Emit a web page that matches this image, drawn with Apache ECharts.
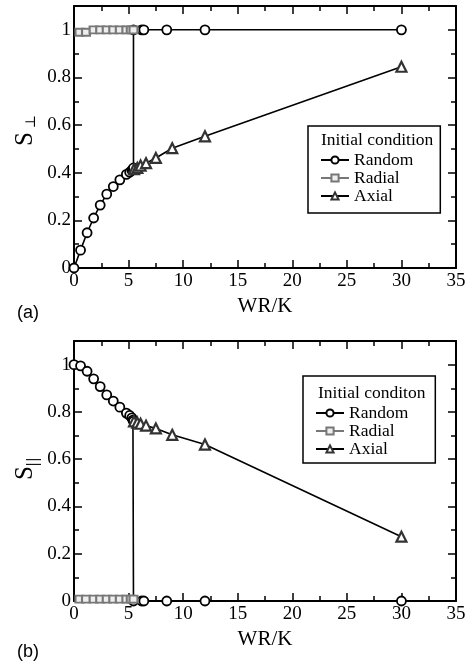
<!DOCTYPE html>
<html>
<head>
<meta charset="utf-8">
<script src="https://cdn.jsdelivr.net/npm/echarts@6/dist/echarts.min.js"></script>
<style>
	html, body { margin: 0; padding: 0; background: #fff; }
	#top { width: 473px; height: 335px; }
	#bottom { width: 473px; height: 331px; }
</style>
</head>
<body>
<div id="top"></div>
<div id="bottom"></div>
<script>
// x values (WR/K)
var randomX = [0, 0.6, 1.2, 1.8, 2.4, 3.0, 3.6, 4.2, 4.8, 5.1, 5.3, 5.4, 5.45, 5.45, 6.2, 6.4, 8.5, 12, 30];
var radialX = [0.5, 1.1, 1.8, 2.4, 3.0, 3.6, 4.2, 4.8, 5.2, 5.45];
var axialX  = [5.5, 5.8, 6.1, 6.6, 7.5, 9, 12, 30];

// (a) S_perp
var randomPerp = [0, 0.075, 0.148, 0.21, 0.264, 0.31, 0.342, 0.37, 0.393, 0.402, 0.41, 0.415, 0.42, 1, 1, 1, 1, 1, 1];
var radialPerp = [0.99, 0.99, 1, 1, 1, 1, 1, 1, 1, 1];
var axialPerp  = [0.415, 0.42, 0.43, 0.44, 0.462, 0.503, 0.553, 0.845];

// (b) S_par
var randomPar = [1, 0.995, 0.972, 0.94, 0.907, 0.872, 0.846, 0.82, 0.795, 0.785, 0.775, 0.765, 0.76, 0, 0, 0, 0, 0, 0];
var radialPar = [0.008, 0.008, 0.008, 0.008, 0.008, 0.008, 0.008, 0.008, 0.008, 0.008];
var axialPar  = [0.76, 0.755, 0.75, 0.742, 0.73, 0.703, 0.662, 0.272];

var xTicks = [0, 5, 10, 15, 20, 25, 30, 35];
var yTicks = [0, 0.2, 0.4, 0.6, 0.8, 1];
var yMax = 1.1;

var serif = 'Liberation Serif';

function pairs(xs, ys) {
	var out = [];
	for (var i = 0; i < xs.length; i++) {
		out.push([xs[i], ys[i]]);
	}
	return out;
}

// major axis: line, long ticks, labels (bottom only)
function xAxisOf(pos, gap) {
	return {
		type: 'value',
		position: pos,
		min: xTicks[0],
		max: xTicks[xTicks.length - 1],
		interval: xTicks[1] - xTicks[0],
		axisLine: { show: true, onZero: false, lineStyle: { color: '#000', width: 2 } },
		axisTick: { show: true, inside: true, length: 8, lineStyle: { color: '#000', width: 1.5 } },
		splitLine: { show: false },
		axisLabel: {
			show: pos == 'bottom',
			margin: 4,
			color: '#000',
			fontFamily: serif,
			fontSize: 19
		},
		name: pos == 'bottom' ? 'WR/K' : '',
		nameLocation: 'middle',
		nameGap: gap,
		nameTextStyle: { color: '#000', fontFamily: serif, fontSize: 21 }
	};
}

// minor axis: short ticks only
function xMinorOf(pos) {
	return {
		type: 'value',
		position: pos,
		min: xTicks[0],
		max: xTicks[xTicks.length - 1],
		interval: (xTicks[1] - xTicks[0]) / 2,
		axisLine: { show: false, onZero: false },
		axisTick: { show: true, inside: true, length: 5, lineStyle: { color: '#000', width: 1.5 } },
		splitLine: { show: false },
		axisLabel: { show: false }
	};
}

function yAxisOf(pos) {
	return {
		type: 'value',
		position: pos,
		min: 0,
		max: yMax,
		interval: yTicks[1] - yTicks[0],
		axisLine: { show: true, onZero: false, lineStyle: { color: '#000', width: 2 } },
		axisTick: { show: true, inside: true, length: 8, lineStyle: { color: '#000', width: 1.5 } },
		splitLine: { show: false },
		axisLabel: {
			show: pos == 'left',
			showMaxLabel: false,
			margin: 3,
			color: '#000',
			fontFamily: serif,
			fontSize: 19
		}
	};
}

function yMinorOf(pos) {
	return {
		type: 'value',
		position: pos,
		min: 0,
		max: yMax,
		interval: (yTicks[1] - yTicks[0]) / 2,
		axisLine: { show: false, onZero: false },
		axisTick: { show: true, inside: true, length: 5, lineStyle: { color: '#000', width: 1.5 } },
		splitLine: { show: false },
		axisLabel: { show: false }
	};
}

function seriesOf(name, xs, ys) {
	var s = {
		name: name,
		type: 'line',
		xAxisIndex: 0,
		yAxisIndex: 0,
		data: pairs(xs, ys),
		lineStyle: { color: '#000', width: 1.6 },
		itemStyle: { color: '#fff', borderColor: '#000', borderWidth: 1.8 },
		symbol: 'circle',
		symbolSize: 9,
		showAllSymbol: true
	};
	if (name == 'Radial') {
		s.symbol = 'rect';
		s.symbolSize = [8, 7];
		s.lineStyle = { color: '#777', width: 1.6 };
		s.itemStyle = { color: '#eee', borderColor: '#777', borderWidth: 2 };
	} else if (name == 'Axial') {
		s.symbol = 'triangle';
		s.symbolSize = 10;
		s.itemStyle = { color: '#fff', borderColor: '#333', borderWidth: 2.2 };
	}
	return s;
}

function textOf(str, x, y, size, family, rotate) {
	return {
		type: 'text',
		x: x,
		y: y,
		rotation: rotate ? Math.PI / 2 : 0,
		style: {
			text: str,
			fontFamily: family,
			fontSize: size,
			fill: '#000',
			align: rotate ? 'center' : 'left',
			verticalAlign: 'middle'
		}
	};
}

// one chart per panel
function drawPanel(id, p) {
	var myChart = echarts.init(document.getElementById(id), null, { renderer: 'canvas' });
	var option = {
		backgroundColor: '#fff',
		animation: false,
		grid: { left: 74, right: 17, top: 6, height: p.height },
		xAxis: [xAxisOf('bottom', p.nameGap), xAxisOf('top', p.nameGap), xMinorOf('bottom'), xMinorOf('top')],
		yAxis: [yAxisOf('left'), yAxisOf('right'), yMinorOf('left'), yMinorOf('right')],
		legend: {
			orient: 'vertical',
			left: p.legendLeft,
			top: p.legendTop,
			padding: [p.padTop, 27, p.padBottom, 12],
			itemGap: 0,
			itemWidth: 28,
			itemHeight: 9,
			borderColor: '#000',
			borderWidth: 1.5,
			borderRadius: 0,
			textStyle: { color: '#000', fontFamily: serif, fontSize: 17.5, lineHeight: 16 },
			data: ['Random', 'Radial', 'Axial']
		},
		series: [
			seriesOf('Random', randomX, p.random),
			seriesOf('Radial', radialX, p.radial),
			seriesOf('Axial', axialX, p.axial)
		],
		graphic: [
			textOf(p.legendTitle, p.titleX, p.titleY, 17.5, serif, false),
			textOf('S', 25, p.sY, 25, serif, true),
			textOf(p.sub, p.subX, p.subY, 14, 'DejaVu Serif', true),
			textOf(p.tag, 17, p.tagY, 18, 'Liberation Sans', false)
		]
	};
	myChart.setOption(option);
}

drawPanel('top', {
	height: 262, nameGap: 19,
	random: randomPerp, radial: radialPerp, axial: axialPerp,
	legendLeft: 308, legendTop: 126, padTop: 25, padBottom: 8,
	legendTitle: 'Initial condition', titleX: 321, titleY: 140,
	sY: 139, sub: '\u22a5', subX: 31, subY: 122,
	tag: '(a)', tagY: 313
});

drawPanel('bottom', {
	height: 260, nameGap: 17,
	random: randomPar, radial: radialPar, axial: axialPar,
	legendLeft: 303, legendTop: 41, padTop: 28, padBottom: 5,
	legendTitle: 'Initial conditon', titleX: 318, titleY: 58,
	sY: 138, sub: '||', subX: 33, subY: 127,
	tag: '(b)', tagY: 317
});
</script>
</body>
</html>
